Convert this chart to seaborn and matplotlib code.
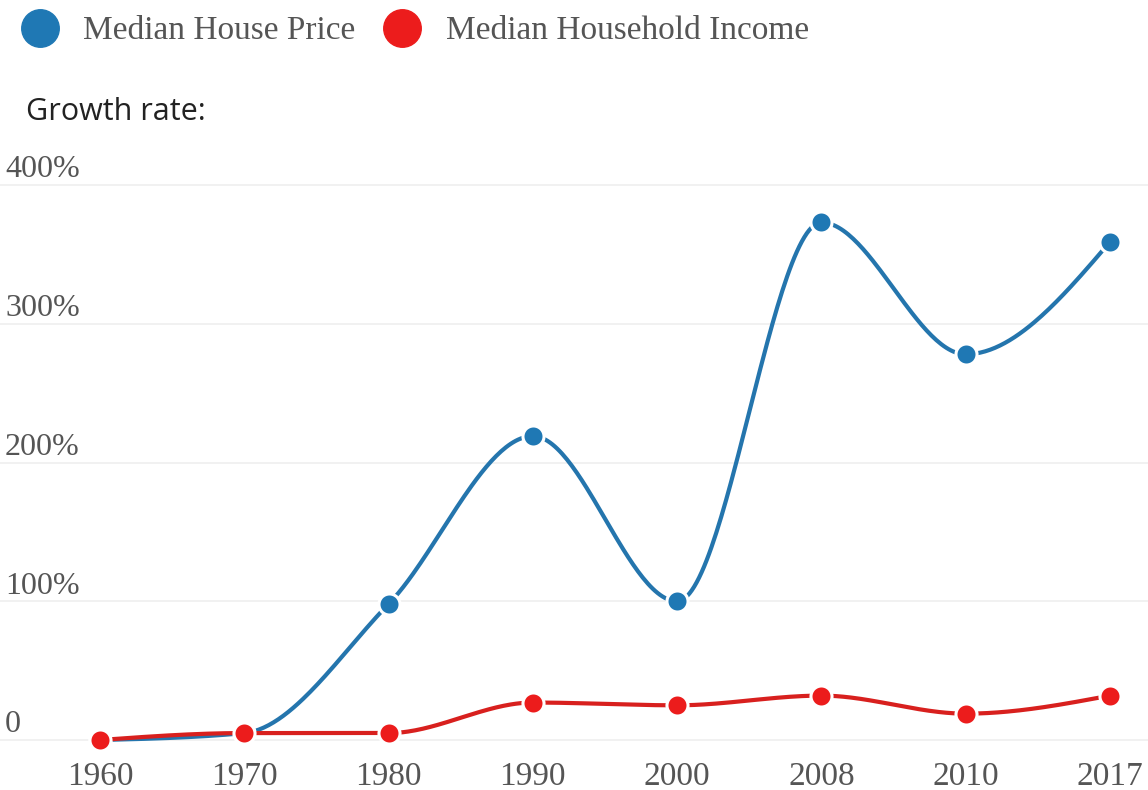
import numpy as np
import pandas as pd
import matplotlib
matplotlib.use("Agg")
import matplotlib.pyplot as plt
import seaborn as sns
from matplotlib.lines import Line2D
from matplotlib.transforms import blended_transform_factory, offset_copy

years = ["1960", "1970", "1980", "1990", "2000", "2008", "2010", "2017"]
house_price = [0, 5, 98, 219, 100, 373, 278, 359]
household_income = [0, 5, 5, 27, 25, 32, 19, 32]
y_ticks = [0, 100, 200, 300, 400]
y_labels = ["0", "100%", "200%", "300%", "400%"]

blue = "#1f78b4"
red = "#ec1c1c"
blue_line = "#2475ad"
red_line = "#d8201e"


def monotone_x(x, y, n=60):
    # d3 curveMonotoneX style smoothing for the drawn path
    x = np.asarray(x, float)
    y = np.asarray(y, float)
    h = np.diff(x)
    s = np.diff(y) / h
    t = np.zeros(len(x))
    for i in range(1, len(x) - 1):
        p = (s[i - 1] * h[i] + s[i] * h[i - 1]) / (h[i - 1] + h[i])
        sg = (1 if s[i - 1] >= 0 else -1) + (1 if s[i] >= 0 else -1)
        t[i] = sg * min(abs(s[i - 1]), abs(s[i]), 0.5 * abs(p))
    t[0] = (3 * s[0] - t[1]) / 2
    t[-1] = (3 * s[-1] - t[-2]) / 2
    xs, ys = [], []
    for i in range(len(x) - 1):
        u = np.linspace(0, 1, n)
        h00 = 2 * u**3 - 3 * u**2 + 1
        h10 = u**3 - 2 * u**2 + u
        h01 = -2 * u**3 + 3 * u**2
        h11 = u**3 - u**2
        xs.append(x[i] + u * h[i])
        ys.append(h00 * y[i] + h10 * h[i] * t[i] + h01 * y[i + 1] + h11 * h[i] * t[i + 1])
    return np.concatenate(xs), np.concatenate(ys)


idx = np.arange(len(years))
df = pd.DataFrame({
    "idx": np.concatenate([idx, idx]),
    "value": house_price + household_income,
    "series": ["Median House Price"] * len(years) + ["Median Household Income"] * len(years),
})

sns.set_theme(style="white")
plt.rcParams["font.family"] = ["Liberation Serif", "DejaVu Serif"]

fig = plt.figure(figsize=(11.48, 7.90), dpi=100)
ax = fig.add_axes([0, 1 - 750 / 790, 1, 575 / 790])
ax.set_facecolor("white")

for v in y_ticks:
    ax.axhline(v, color="#efefef", lw=1.2, zorder=0)

bx, by = monotone_x(idx, house_price)
ax.plot(bx, by, color=blue_line, lw=3, zorder=2, solid_capstyle="round")
rx, ry = monotone_x(idx, household_income)

sns.scatterplot(data=df[df.series == "Median House Price"], x="idx", y="value",
                color=blue, s=230, edgecolor="white", linewidth=2.2, legend=False, ax=ax, zorder=3)
ax.plot(rx, ry, color=red_line, lw=3, zorder=4, solid_capstyle="round")
sns.scatterplot(data=df[df.series == "Median Household Income"], x="idx", y="value",
                color=red, s=230, edgecolor="white", linewidth=2.2, legend=False, ax=ax, zorder=5)

ax.set_xlim(-100 / 144.3, 7 + 38 / 144.3)
ax.set_ylim(-10 / 1.3875, 400 + 10 / 1.3875)
ax.set_xticks(idx)
ax.set_xticklabels(years, fontsize=24, color="#555555")
ax.tick_params(axis="x", length=0, pad=8)
ax.set_yticks([])
ax.set_xlabel("")
ax.set_ylabel("")
for sp in ax.spines.values():
    sp.set_visible(False)

trans = offset_copy(blended_transform_factory(ax.transAxes, ax.transData), fig=fig, x=0, y=0.5, units="points")
for v, lab in zip(y_ticks, y_labels):
    ax.text(5 / 1148, v, lab, transform=trans, fontsize=23, color="#555555", ha="left", va="bottom")

fig.text(26 / 1148, 1 - 112 / 790, "Growth rate:", fontsize=22, color="#222222",
         family=["Open Sans", "DejaVu Sans"], ha="left", va="center")

handles = [Line2D([], [], marker="o", ls="", color=blue, markersize=27),
           Line2D([], [], marker="o", ls="", color=red, markersize=27)]
fig.legend(handles, ["Median House Price", "Median Household Income"],
           loc="center left", bbox_to_anchor=(20 / 1148, 1 - 31 / 790), ncol=2,
           frameon=False, fontsize=24, labelcolor="#555555", handlelength=1.2,
           handletextpad=0.7, columnspacing=0.8, borderpad=0, borderaxespad=0)

fig.savefig("out.png", dpi=100, facecolor="white")
